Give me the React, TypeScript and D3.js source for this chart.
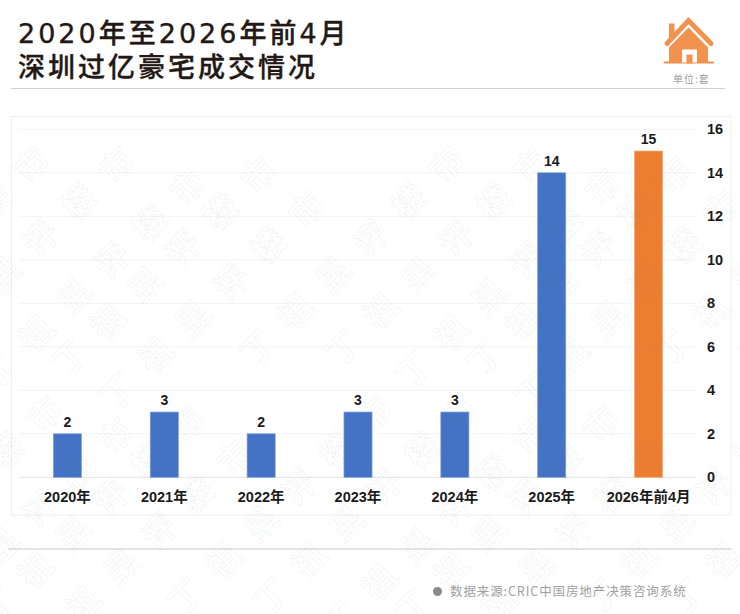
import React from 'react';
import { scaleBand, scaleLinear, range } from 'd3';

const categories = ['2020年', '2021年', '2022年', '2023年', '2024年', '2025年', '2026年前4月'];
const values = [2, 3, 2, 3, 3, 14, 15];
const yTicks = [0, 2, 4, 6, 8, 10, 12, 14, 16];
const titleLines = ['2020年至2026年前4月', '深圳过亿豪宅成交情况'];
const unitLabel = '单位:套';
const sourceLabel = '数据来源:CRIC中国房地产决策咨询系统';
const watermarkChars = ['丁', '祖', '昱', '评', '楼', '市'];

const width = 740;
const height = 614;
const latin = '"Liberation Sans", "Noto Sans CJK SC", sans-serif';
const cjk = '"Noto Sans CJK SC", sans-serif';
const titleFont = '"DejaVu Sans", "Noto Sans CJK SC", sans-serif';

// start of each diagonal in one watermark tile
const tileStarts: [number, number][] = [[-157, 348], [-72, 348], [-1, 370], [70, 358], [118, 392]];

const Watermark: React.FC = () => {
  const items: { x: number; y: number; ch: string }[] = [];
  range(-1, 2).forEach(row => {
    range(-1, 3).forEach(col => {
      tileStarts.forEach(([sx, sy]) => {
        const ox = sx + col * 415 - row * 72;
        const oy = sy + row * 249;
        watermarkChars.forEach((ch, i) => {
          const x = ox + i * 37.7;
          const y = oy - i * 36.6;
          if (y > 155 && y < 640 && x > -30 && x < 770) items.push({ x, y, ch });
        });
      });
    });
  });
  return (
    <g fontFamily={cjk} fontWeight={700} fontSize={33} textAnchor="middle" fill="none" stroke="#777" strokeOpacity={0.09} strokeWidth={0.9}>
      {items.map((d, i) => (
        <text key={i} x={d.x} y={d.y} dy="0.36em" transform={`rotate(-45 ${d.x} ${d.y})`}>{d.ch}</text>
      ))}
    </g>
  );
};

const House: React.FC = () => (
  <g>
    <path d="M669 23.5h5.5v12l-5.5 5.5z" fill="#f2924f" />
    <path d="M667 43.5L688.5 20.5L711 43.5" fill="none" stroke="#f2924f" strokeWidth={5} strokeLinecap="round" strokeLinejoin="miter" />
    <path d="M669 47.5L688.5 27.5L708 47.5V62H669z" fill="#f2924f" />
    <path d="M664.5 62.5H713" stroke="#f2924f" strokeWidth={2} strokeLinecap="round" />
    <rect x={682} y={49.5} width={15} height={13} fill="#fff" />
    <rect x={686.5} y={54.5} width={6} height={9} fill="#f2924f" />
  </g>
);

const App: React.FC = () => {
  const x = scaleBand<string>().domain(categories).range([19, 697]).paddingInner(0.71).paddingOuter(0.355);
  const y = scaleLinear().domain([0, 16]).range([477.3, 129.3]);

  return (
    <svg width={width} height={height} viewBox={`0 0 ${width} ${height}`} style={{ position: 'absolute', left: 0, top: 0, background: '#fff' }}>
      {titleLines.map((t, i) => (
        <text key={t} x={18} y={43 + i * 34} fontFamily={titleFont} fontWeight={500} fontSize={27} letterSpacing={3} fill="#231815" stroke="#231815" strokeWidth={0.35}>{t}</text>
      ))}
      <line x1={11} x2={725} y1={88.5} y2={88.5} stroke="#d2d2d2" strokeWidth={1.2} />
      <House />
      <text x={673} y={83} fontFamily={cjk} fontSize={10} letterSpacing={1} fill="#a0a0a0">{unitLabel}</text>

      <rect x={11.5} y={116.5} width={719.5} height={398.5} fill="#fff" stroke="#efefef" />
      {yTicks.map(t => (
        <line key={t} x1={19} x2={696} y1={y(t)} y2={y(t)} stroke={t === 0 ? '#e6e6e6' : '#f3f3f3'} />
      ))}
      {categories.map((c, i) => (
        <rect key={c} x={x(c)} y={y(values[i])} width={x.bandwidth()} height={y(0) - y(values[i])}
          fill={i === categories.length - 1 ? '#ed7d31' : '#4472c4'}
          stroke={i === categories.length - 1 ? '#f4a66f' : '#7f9fdc'} strokeWidth={0.7} />
      ))}
      {categories.map((c, i) => (
        <text key={c} x={x(c)! + x.bandwidth() / 2} y={y(values[i]) - 7} textAnchor="middle" fontFamily={latin} fontWeight={700} fontSize={14} fill="#1a1a1a">{values[i]}</text>
      ))}
      {categories.map(c => (
        <text key={c} x={x(c)! + x.bandwidth() / 2} y={502} textAnchor="middle" fontFamily={latin} fontWeight={700} fontSize={14.5} fill="#1a1a1a">{c}</text>
      ))}
      {yTicks.map(t => (
        <text key={t} x={707} y={y(t)} dy="0.33em" fontFamily={latin} fontWeight={700} fontSize={14.5} fill="#1a1a1a">{t}</text>
      ))}

      <line x1={8} x2={731} y1={549} y2={549} stroke="#c8c8c8" />
      <circle cx={437.5} cy={591.5} r={4.5} fill="#8a8a8a" />
      <text x={450} y={596} fontFamily={cjk} fontSize={12.5} letterSpacing={0.9} fill="#a0a0a0">{sourceLabel}</text>

      <Watermark />
    </svg>
  );
};

export default App;
